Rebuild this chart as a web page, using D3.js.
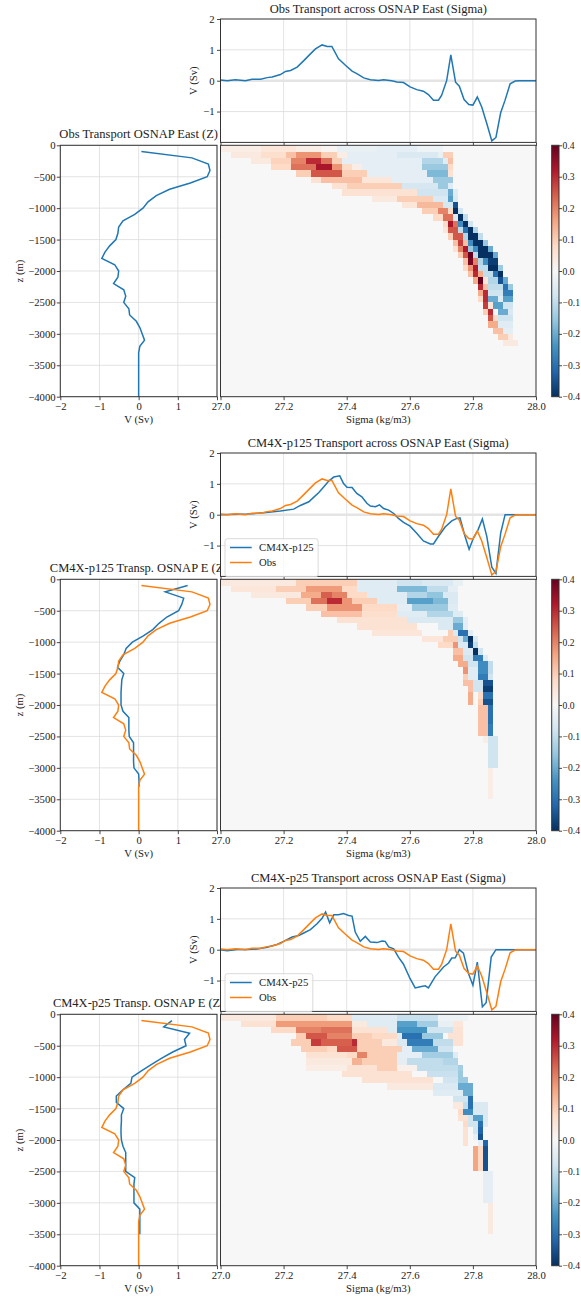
<!DOCTYPE html>
<html><head><meta charset="utf-8">
<script src="https://cdn.jsdelivr.net/npm/d3@7"></script>
<style>
body{margin:0;background:#fff}
svg{display:block}
</style>
</head><body>
<svg id="c" width="581" height="1297"></svg>
<script>
// ---------------- DATA ----------------
const panelTitlesTop = ["Obs Transport across OSNAP East (Sigma)","CM4X-p125 Transport across OSNAP East (Sigma)","CM4X-p25 Transport across OSNAP East (Sigma)"];
const panelTitlesZ = ["Obs Transport OSNAP East (Z)","CM4X-p125 Transp. OSNAP E (Z)","CM4X-p25 Transp. OSNAP E (Z)"];
const modelNames = [null,"CM4X-p125","CM4X-p25"];
const sigmaTicks = [27.0,27.2,27.4,27.6,27.8,28.0];
const vTicksTop = [-1,0,1,2];
const vTicksProf = [-2,-1,0,1,2];
const vTickLabelsProf = ["−2","−1","0","1",""];
const zTicks = [0,-500,-1000,-1500,-2000,-2500,-3000,-3500,-4000];
const cbarTicks = [-0.4,-0.3,-0.2,-0.1,0,0.1,0.2,0.3,0.4];
// RdBu_r colormap anchor colours (ColorBrewer), from -0.4 to 0.4
const cmapDomain = [-0.4,-0.32,-0.24,-0.16,-0.08,0,0.08,0.16,0.24,0.32,0.4];
const cmapColors = ["#053061","#2166ac","#4393c3","#92c5de","#d1e5f0","#f7f7f7","#fddbc7","#f4a582","#d6604d","#b2182b","#67001f"];

// transport vs sigma: [sigma, Sv]
const obsSigma = [[27.000,0.02],[27.021,0.00],[27.047,0.03],[27.079,0.00],[27.100,0.05],[27.127,0.05],[27.148,0.10],[27.164,0.12],[27.190,0.20],[27.206,0.30],[27.222,0.33],[27.243,0.44],[27.264,0.65],[27.285,0.87],[27.301,1.03],[27.322,1.16],[27.338,1.11],[27.353,1.11],[27.374,0.71],[27.396,0.50],[27.417,0.31],[27.432,0.23],[27.454,0.09],[27.475,0.03],[27.501,0.01],[27.517,0.03],[27.543,0.00],[27.559,-0.04],[27.580,-0.06],[27.601,-0.20],[27.622,-0.29],[27.643,-0.34],[27.659,-0.45],[27.675,-0.63],[27.691,-0.63],[27.701,-0.47],[27.717,0.01],[27.730,0.84],[27.745,-0.05],[27.757,-0.18],[27.772,-0.61],[27.787,-0.77],[27.800,-0.79],[27.814,-0.53],[27.828,-0.85],[27.844,-1.39],[27.860,-1.95],[27.873,-1.84],[27.888,-1.04],[27.902,-0.63],[27.918,-0.10],[27.934,-0.01],[27.949,0.00],[28.000,0.00]];
const p125Sigma = [[27.000,0.00],[27.084,0.02],[27.137,0.06],[27.190,0.12],[27.232,0.18],[27.253,0.30],[27.280,0.42],[27.295,0.56],[27.311,0.71],[27.327,0.90],[27.343,1.09],[27.359,1.22],[27.378,1.26],[27.390,1.01],[27.401,0.89],[27.417,0.88],[27.432,0.69],[27.448,0.58],[27.464,0.37],[27.475,0.28],[27.491,0.26],[27.504,0.32],[27.517,0.20],[27.533,0.15],[27.549,0.04],[27.564,-0.12],[27.580,-0.25],[27.601,-0.37],[27.622,-0.60],[27.643,-0.85],[27.665,-0.95],[27.675,-0.95],[27.691,-0.70],[27.712,-0.40],[27.733,-0.20],[27.749,-0.12],[27.759,-0.10],[27.775,-0.70],[27.788,-1.12],[27.802,-0.75],[27.816,-0.50],[27.830,-0.14],[27.844,-0.70],[27.860,-1.70],[27.873,-1.90],[27.888,-0.60],[27.902,0.00],[27.918,0.00],[28.000,0.00]];
const p25Sigma = [[27.000,0.00],[27.021,-0.03],[27.053,0.01],[27.084,0.01],[27.116,0.02],[27.148,0.08],[27.179,0.17],[27.200,0.27],[27.227,0.41],[27.248,0.46],[27.264,0.54],[27.285,0.65],[27.306,0.84],[27.322,1.02],[27.333,1.22],[27.346,0.87],[27.359,1.13],[27.374,1.13],[27.390,1.17],[27.406,1.11],[27.417,1.09],[27.427,0.57],[27.443,0.27],[27.459,0.43],[27.475,0.25],[27.496,0.23],[27.512,0.28],[27.522,0.27],[27.533,0.09],[27.549,0.03],[27.564,-0.24],[27.580,-0.47],[27.601,-0.94],[27.617,-1.24],[27.633,-1.20],[27.649,-1.17],[27.659,-1.24],[27.680,-0.88],[27.707,-0.56],[27.723,-0.43],[27.733,-0.27],[27.744,-0.26],[27.757,0.00],[27.770,-0.11],[27.786,-0.77],[27.800,-1.15],[27.814,-0.40],[27.830,-1.85],[27.842,-1.72],[27.858,-0.24],[27.873,0.00],[28.000,0.00]];

// transport vs depth: depth levels (m) and Sv
const zLevels = [-100,-200,-300,-400,-500,-600,-700,-800,-900,-1000,-1100,-1200,-1300,-1400,-1500,-1600,-1700,-1800,-1900,-2000,-2100,-2200,-2300,-2400,-2500,-2600,-2700,-2800,-2900,-3000,-3100,-3200,-3300,-3400,-3500,-3600,-3700,-3800,-3900,-4000];
const obsZ = [0.07,1.36,1.78,1.82,1.75,1.32,0.79,0.45,0.24,0.11,-0.10,-0.40,-0.51,-0.53,-0.58,-0.74,-0.86,-0.94,-0.61,-0.51,-0.53,-0.64,-0.38,-0.33,-0.38,-0.25,-0.23,-0.06,0.03,0.09,0.15,0.03,0.00,0,0,0,0,0,0,0];
const p125Z = [1.25,0.68,1.15,1.10,1.02,0.72,0.52,0.36,0.12,-0.16,-0.32,-0.38,-0.48,-0.54,-0.38,-0.43,-0.44,-0.45,-0.45,-0.45,-0.40,-0.25,-0.25,-0.25,-0.24,-0.13,-0.13,-0.13,-0.13,-0.12,0.00,0.01,0.01];
const p25Z = [0.85,0.64,1.30,1.17,1.21,0.87,0.58,0.32,0.07,-0.17,-0.20,-0.40,-0.57,-0.57,-0.38,-0.44,-0.44,-0.45,-0.45,-0.44,-0.40,-0.33,-0.33,-0.33,-0.33,-0.10,-0.12,-0.12,-0.12,-0.12,0.03,0.03,0.03,0.03,0.03];

// heatmap runs: [depth row (100 m each), first sigma bin, last sigma bin, value in 0.01 Sv]
const sigmaBin = 0.016, zBin = 100;
const heatObs = [[0,0,7,3],[0,8,14,5],[0,15,19,3],[0,20,22,1],[0,23,30,-3],[0,31,38,-4],[0,39,43,-2],
[1,2,7,4],[1,8,12,7],[1,13,14,12],[1,15,19,18],[1,20,22,10],[1,23,24,3],[1,25,34,-4],[1,35,42,-6],[1,43,43,-3],[1,44,45,10],
[2,6,9,4],[2,10,13,9],[2,14,16,20],[2,17,19,30],[2,20,21,22],[2,22,23,10],[2,24,39,-4],[2,40,43,-12],[2,44,44,-5],[2,45,45,12],
[3,10,13,8],[3,14,18,22],[3,19,21,33],[3,22,23,18],[3,24,25,8],[3,26,27,3],[3,28,39,-4],[3,40,44,-15],[3,45,45,8],
[4,15,17,10],[4,18,23,25],[4,24,28,10],[4,29,40,-4],[4,41,44,-18],[4,45,45,6],
[5,18,19,6],[5,20,27,12],[5,28,33,5],[5,34,41,-4],[5,42,45,-15],
[6,22,24,6],[6,25,35,10],[6,36,42,-7],[6,43,44,-15],[6,45,45,-5],
[7,24,38,6],[7,39,44,-8],[7,45,45,-20],[7,46,46,-5],
[8,30,34,4],[8,35,41,10],[8,42,44,-6],[8,45,45,-22],[8,46,46,-6],
[9,36,38,5],[9,39,43,13],[9,44,45,-7],[9,46,46,-35],
[10,40,42,10],[10,43,44,20],[10,45,45,8],[10,46,46,-40],[10,47,47,-8],
[11,42,43,8],[11,44,45,22],[11,46,46,-5],[11,47,47,-40],[11,48,48,-10],
[12,44,44,8],[12,45,45,33],[12,46,46,22],[12,47,47,-25],[12,48,48,-40],[12,49,49,-8],
[13,44,44,5],[13,45,46,25],[13,47,47,-10],[13,48,48,-30],[13,49,49,-40],[13,50,50,-12],
[14,45,45,10],[14,46,47,25],[14,48,48,-12],[14,49,50,-40],[14,51,51,-10],
[15,46,46,12],[15,47,47,28],[15,48,48,12],[15,49,49,-25],[15,50,51,-40],[15,52,52,-15],
[16,46,46,6],[16,47,47,20],[16,48,48,32],[16,49,49,-15],[16,50,50,-25],[16,51,52,-40],[16,53,53,-20],
[17,47,47,10],[17,48,48,25],[17,49,49,40],[17,50,50,-10],[17,51,53,-40],[17,54,54,-20],
[18,48,48,12],[18,49,49,38],[18,50,50,20],[18,51,51,-12],[18,52,52,-25],[18,53,54,-38],
[19,48,48,8],[19,49,49,18],[19,50,50,32],[19,51,52,-10],[19,53,54,-40],[19,55,55,-15],
[20,49,49,12],[20,50,50,30],[20,51,51,15],[20,52,53,-10],[20,54,54,-30],[20,55,55,-40],
[21,50,50,15],[21,51,51,40],[21,52,52,5],[21,53,54,-12],[21,55,55,-35],[21,56,56,-20],
[22,51,51,30],[22,52,52,12],[22,53,55,-10],[22,56,56,-30],[22,57,57,-15],
[23,51,51,15],[23,52,52,30],[23,53,55,-8],[23,56,57,-28],
[24,51,51,8],[24,52,52,30],[24,53,54,-20],[24,55,55,-5],[24,56,57,-22],
[25,52,52,28],[25,53,53,5],[25,54,55,-22],[25,56,57,-8],
[26,52,52,10],[26,53,53,30],[26,55,56,-20],[26,57,57,-6],
[27,53,53,25],[27,54,54,8],[27,55,57,-8],
[28,53,54,15],[28,55,57,-5],
[29,54,55,12],[29,56,57,-4],
[30,55,56,10],[30,57,57,4],
[31,56,58,4]];
const heatP125 = [[0,0,14,4],[0,15,26,10],[0,27,34,-5],[0,35,39,-8],[0,40,45,-6],[0,46,47,-3],
[1,2,10,5],[1,11,16,10],[1,17,23,17],[1,24,26,8],[1,27,34,-5],[1,35,40,-18],[1,41,44,-10],[1,45,46,-4],
[2,6,15,4],[2,16,19,15],[2,20,21,24],[2,22,24,20],[2,25,28,8],[2,29,36,-5],[2,37,40,-12],[2,41,43,-16],[2,44,46,-6],
[3,13,17,10],[3,18,20,22],[3,21,23,30],[3,24,25,18],[3,26,30,10],[3,31,36,-5],[3,37,41,-22],[3,42,44,-18],[3,45,46,-6],
[4,17,20,10],[4,21,27,18],[4,28,34,8],[4,35,37,-4],[4,38,44,-15],[4,45,46,-5],
[5,20,27,12],[5,28,34,7],[5,35,40,-5],[5,41,45,-12],[5,46,47,-5],
[6,23,36,6],[6,37,45,-6],[6,46,47,-15],[6,48,48,-4],
[7,27,38,6],[7,43,45,-6],[7,46,47,-20],[7,48,48,-4],
[8,30,39,5],[8,45,45,10],[8,46,46,-6],[8,47,48,-30],[8,49,49,-5],
[9,40,43,5],[9,44,46,10],[9,47,47,-8],[9,48,48,-20],[9,49,49,-40],[9,50,50,-6],
[10,43,45,8],[10,46,46,18],[10,47,48,-6],[10,49,49,-38],[10,50,50,-10],
[11,46,47,12],[11,48,49,-6],[11,50,50,-40],[11,51,51,-8],
[12,46,47,15],[12,48,49,-8],[12,50,51,-28],[12,52,52,-5],
[13,47,48,15],[13,49,50,-8],[13,51,52,-25],[13,53,53,-10],
[14,48,48,18],[14,49,50,-5],[14,51,52,-25],[14,53,53,-10],
[15,48,48,10],[15,49,50,-5],[15,51,52,-28],[15,53,53,-8],
[16,48,49,12],[16,50,51,-8],[16,52,53,-35],
[17,49,49,12],[17,50,51,-8],[17,52,53,-38],
[18,49,49,15],[18,51,51,8],[18,52,53,-30],
[19,49,49,15],[19,51,51,10],[19,52,53,-35],
[20,51,52,12],[20,53,53,-30],
[21,51,52,12],[21,53,53,-30],
[22,51,52,12],[22,53,53,-30],
[23,51,52,12],[23,53,53,-28],
[24,51,52,12],[24,53,53,-28],
[25,52,52,3],[25,53,54,-8],
[26,53,54,-8],[27,53,54,-8],[28,53,54,-8],[29,53,54,-8],
[30,53,53,3],[31,53,53,3],[32,53,53,3],[33,53,53,3],[34,53,53,3]];
const heatP25 = [[0,0,10,4],[0,11,20,10],[0,21,25,8],[0,26,34,-5],[0,35,42,-9],[0,43,48,-2],
[1,4,10,6],[1,11,19,17],[1,20,25,17],[1,26,28,4],[1,29,34,-5],[1,35,38,-22],[1,39,42,-14],[1,43,45,-3],[1,46,47,5],
[2,10,14,8],[2,15,19,20],[2,20,25,22],[2,26,32,6],[2,33,34,-5],[2,35,40,-24],[2,41,45,-8],[2,46,47,6],
[3,15,16,10],[3,17,20,25],[3,21,25,20],[3,26,29,10],[3,30,34,8],[3,35,35,-5],[3,36,39,-30],[3,40,43,-15],[3,45,47,6],
[4,14,17,10],[4,18,19,28],[4,20,25,24],[4,26,26,30],[4,27,31,10],[4,32,34,4],[4,35,36,-6],[4,37,41,-28],[4,42,45,-10],[4,46,47,6],
[5,16,20,10],[5,21,22,8],[5,23,26,25],[5,27,35,10],[5,36,37,-4],[5,38,42,-20],[5,43,45,-8],
[6,17,24,6],[6,25,26,8],[6,27,28,20],[6,29,34,10],[6,35,39,-4],[6,40,45,-14],[6,46,46,-5],
[7,17,25,4],[7,26,27,14],[7,28,34,10],[7,35,36,-4],[7,37,43,-10],[7,44,46,-12],
[8,17,24,3],[8,25,30,6],[8,31,34,10],[8,35,38,2],[8,39,46,-10],[8,47,47,-14],
[9,24,37,6],[9,41,46,-9],[9,47,47,-15],
[10,28,41,6],[10,44,46,-8],[10,47,48,-15],
[11,33,41,4],[11,42,46,-6],[11,47,49,-20],
[12,42,47,-5],[12,48,49,-20],
[13,46,48,-8],[13,49,49,-30],
[14,46,47,4],[14,48,48,-10],[14,49,49,-30],[14,50,52,-6],
[15,47,47,8],[15,48,49,-25],[15,50,52,-6],
[16,47,48,6],[16,49,49,-8],[16,50,51,-22],[16,52,52,-6],
[17,48,48,8],[17,49,50,-8],[17,51,51,-30],[17,52,52,-5],
[18,48,48,6],[18,50,50,-8],[18,51,51,-32],
[19,48,48,6],[19,50,50,-4],[19,51,51,-35],
[20,48,48,6],[20,51,51,-4],[20,52,52,-32],
[21,50,50,16],[21,51,51,8],[21,52,52,-35],
[22,50,50,16],[22,51,51,8],[22,52,52,-35],
[23,50,50,16],[23,51,51,8],[23,52,52,-35],
[24,50,50,16],[24,51,51,8],[24,52,52,-35],
[25,52,53,-4],[26,52,53,-4],[27,52,53,-4],[28,52,53,-4],[29,52,53,-4],
[30,53,53,4],[31,53,53,4],[32,53,53,4],[33,53,53,4],[34,53,53,4]];

const panelSigma = [null,p125Sigma,p25Sigma];
const panelZ = [null,p125Z,p25Z];
const panelHeat = [heatObs,heatP125,heatP25];
const panelOffsets = [0,434,869];

// ---------------- STYLE ----------------
const FONT = '"Liberation Serif","DejaVu Serif",serif';
const TICK = 10.7, TITLE = 12.5, CBTICK = 9.6;
const SPINE = "#333", GRID = "#dcdcdc", TXT = "#222";
const BLUE = "#1f77b4", ORANGE = "#ff7f0e";
const cmap = d3.scaleLinear().domain(cmapDomain).range(cmapColors).clamp(true);

const svg = d3.select("#c");
const defs = svg.append("defs");
const grad = defs.append("linearGradient").attr("id","cbgrad").attr("x1",0).attr("y1",1).attr("x2",0).attr("y2",0);
cmapDomain.forEach((d,k) => grad.append("stop").attr("offset", (d+0.4)/0.8).attr("stop-color", cmapColors[k]));

function styleAxis(g, size){
  g.attr("font-family", null).attr("font-size", null);
  g.select(".domain").remove();
  g.selectAll(".tick line").attr("stroke", SPINE).attr("stroke-width", 0.9);
  g.selectAll(".tick text").attr("font-family", FONT).attr("font-size", size||TICK).attr("fill", TXT);
}
function spine(g, A){
  g.append("rect").attr("x",A.x0).attr("y",A.y0).attr("width",A.x1-A.x0).attr("height",A.y1-A.y0)
    .attr("fill","none").attr("stroke",SPINE).attr("stroke-width",1);
}
function txt(g, x, y, s, size, anchor){
  return g.append("text").attr("x",x).attr("y",y).text(s).attr("font-family",FONT)
    .attr("font-size",size).attr("fill",TXT).attr("text-anchor",anchor||"middle");
}

function drawPanel(i){
  const oy = panelOffsets[i];
  const T = {x0:220.5, x1:536, y0:oy+19, y1:oy+142.4};
  const P = {x0:60.3, x1:217, y0:oy+145.3, y1:oy+396.7};
  const Hm = {x0:220.5, x1:536, y0:oy+145.3, y1:oy+396.7};
  const C = {x0:551.7, x1:559, y0:oy+145.3, y1:oy+396.7};
  const xS = d3.scaleLinear().domain([27,28]).range([T.x0,T.x1]);
  const yT = d3.scaleLinear().domain([-2,2]).range([T.y1,T.y0]);
  const xV = d3.scaleLinear().domain([-2,2]).range([P.x0,P.x1]);
  const yZ = d3.scaleLinear().domain([-4000,0]).range([P.y1,P.y0]);
  const yC = d3.scaleLinear().domain([-0.4,0.4]).range([C.y1,C.y0]);
  const g = svg.append("g");

  // ---- depth profile ----
  const pg = g.append("g");
  pg.append("rect").attr("x",P.x0).attr("y",P.y0).attr("width",P.x1-P.x0).attr("height",P.y1-P.y0).attr("fill","#fff");
  pg.selectAll(null).data(vTicksProf).join("line").attr("x1",d=>xV(d)).attr("x2",d=>xV(d)).attr("y1",P.y0).attr("y2",P.y1).attr("stroke",GRID).attr("stroke-width",0.8);
  pg.selectAll(null).data(zTicks).join("line").attr("y1",d=>yZ(d)).attr("y2",d=>yZ(d)).attr("x1",P.x0).attr("x2",P.x1).attr("stroke",GRID).attr("stroke-width",0.8);
  const lineZ = d3.line().x(d=>xV(d[1])).y(d=>yZ(d[0]));
  if(i===0){
    pg.append("path").datum(obsZ.map((v,k)=>[zLevels[k],v])).attr("d",lineZ).attr("fill","none").attr("stroke",BLUE).attr("stroke-width",1.5);
  } else {
    pg.append("path").datum(panelZ[i].map((v,k)=>[zLevels[k],v])).attr("d",lineZ).attr("fill","none").attr("stroke",BLUE).attr("stroke-width",1.5);
    pg.append("path").datum(obsZ.map((v,k)=>[zLevels[k],v])).attr("d",lineZ).attr("fill","none").attr("stroke",ORANGE).attr("stroke-width",1.5);
  }
  spine(pg, P);
  pg.append("g").attr("transform",`translate(${P.x0},0)`)
    .call(d3.axisLeft(yZ).tickValues(zTicks).tickSize(3.5).tickPadding(1.2).tickFormat(d3.format("d"))).call(styleAxis);
  pg.append("g").attr("transform",`translate(0,${P.y1})`)
    .call(d3.axisBottom(xV).tickValues(vTicksProf).tickSize(3.5).tickPadding(2.4).tickFormat((d,k)=>vTickLabelsProf[k])).call(styleAxis);
  txt(pg, (P.x0+P.x1)/2, P.y0-7, panelTitlesZ[i], TITLE);
  txt(pg, (P.x0+P.x1)/2, oy+422.5, "V (Sv)", TICK);
  txt(pg, 0, 0, "z (m)", TICK).attr("transform",`translate(22.5,${(P.y0+P.y1)/2}) rotate(-90)`);

  // ---- sigma transport (top) ----
  const tg = g.append("g");
  tg.append("rect").attr("x",T.x0).attr("y",T.y0).attr("width",T.x1-T.x0).attr("height",T.y1-T.y0).attr("fill","#fff");
  tg.selectAll(null).data(sigmaTicks.slice(1,-1)).join("line").attr("x1",d=>xS(d)).attr("x2",d=>xS(d)).attr("y1",T.y0).attr("y2",T.y1).attr("stroke",GRID).attr("stroke-width",0.8);
  tg.selectAll(null).data([-1,1]).join("line").attr("y1",d=>yT(d)).attr("y2",d=>yT(d)).attr("x1",T.x0).attr("x2",T.x1).attr("stroke",GRID).attr("stroke-width",0.8);
  tg.append("line").attr("x1",T.x0).attr("x2",T.x1).attr("y1",yT(0)).attr("y2",yT(0)).attr("stroke","#e4e4e4").attr("stroke-width",2.6);
  const lineS = d3.line().x(d=>xS(d[0])).y(d=>yT(d[1]));
  if(i===0){
    tg.append("path").datum(obsSigma).attr("d",lineS).attr("fill","none").attr("stroke",BLUE).attr("stroke-width",1.5);
  } else {
    tg.append("path").datum(panelSigma[i]).attr("d",lineS).attr("fill","none").attr("stroke",BLUE).attr("stroke-width",1.5);
    tg.append("path").datum(obsSigma).attr("d",lineS).attr("fill","none").attr("stroke",ORANGE).attr("stroke-width",1.5);
  }
  spine(tg, T);
  tg.append("g").attr("transform",`translate(${T.x0},0)`)
    .call(d3.axisLeft(yT).tickValues(vTicksTop).tickSize(3.5).tickPadding(2.5).tickFormat(d3.format("d"))).call(styleAxis);
  tg.append("g").attr("transform",`translate(0,${T.y1})`)
    .call(d3.axisBottom(xS).tickValues(sigmaTicks).tickSize(3.5).tickFormat("")).call(styleAxis);
  txt(tg, (T.x0+T.x1)/2, T.y0-5.7, panelTitlesTop[i], TITLE);
  txt(tg, 0, 0, "V (Sv)", TICK).attr("transform",`translate(196.5,${(T.y0+T.y1)/2}) rotate(-90)`);
  if(i>0){
    const lg = tg.append("g");
    const box = lg.append("rect").attr("x",225).attr("y",oy+104.7).attr("height",38).attr("rx",2.5)
      .attr("fill","#fff").attr("fill-opacity",0.8).attr("stroke","#cfcfcf").attr("stroke-width",0.8);
    const entries = [[modelNames[i],BLUE,oy+113.5],["Obs",ORANGE,oy+128.5]];
    let maxR = 0;
    entries.forEach(e=>{
      lg.append("line").attr("x1",230).attr("x2",251.7).attr("y1",e[2]).attr("y2",e[2]).attr("stroke",e[1]).attr("stroke-width",1.5);
      const t = txt(lg, 259, e[2]+3.7, e[0], TICK, "start");
      maxR = Math.max(maxR, t.node().getComputedTextLength()+259);
    });
    box.attr("width", maxR + 4.5 - 225);
  }

  // ---- heatmap ----
  const hg = g.append("g");
  hg.append("rect").attr("x",Hm.x0).attr("y",Hm.y0).attr("width",Hm.x1-Hm.x0).attr("height",Hm.y1-Hm.y0).attr("fill",cmap(0));
  const cells = [];
  panelHeat[i].forEach(([r,c0,c1,v])=>{ for(let c=c0;c<=c1;c++) cells.push({r,c,v:v/100}); });
  hg.selectAll(null).data(cells).join("rect")
    .attr("x",d=>xS(27+d.c*sigmaBin))
    .attr("width",d=>Math.min(xS(27+(d.c+1)*sigmaBin),Hm.x1)-xS(27+d.c*sigmaBin))
    .attr("y",d=>yZ(-zBin*d.r))
    .attr("height",d=>yZ(-zBin*(d.r+1))-yZ(-zBin*d.r))
    .attr("fill",d=>cmap(d.v)).attr("shape-rendering","crispEdges");
  spine(hg, Hm);
  hg.append("g").attr("transform",`translate(0,${Hm.y1})`)
    .call(d3.axisBottom(xS).tickValues(sigmaTicks).tickSize(3.5).tickPadding(2.4).tickFormat(d3.format(".1f"))).call(styleAxis);
  txt(hg, (Hm.x0+Hm.x1)/2, oy+422.6, "Sigma (kg/m3)", TICK);

  // ---- colorbar ----
  const cg = g.append("g");
  cg.append("rect").attr("x",C.x0).attr("y",C.y0).attr("width",C.x1-C.x0).attr("height",C.y1-C.y0).attr("fill","url(#cbgrad)");
  spine(cg, C);
  cg.append("g").attr("transform",`translate(${C.x1},0)`)
    .call(d3.axisRight(yC).tickValues(cbarTicks).tickSize(3).tickPadding(0.6).tickFormat(d3.format(".1f"))).call(g=>styleAxis(g, CBTICK));
}
[0,1,2].forEach(drawPanel);
</script>
</body></html>
